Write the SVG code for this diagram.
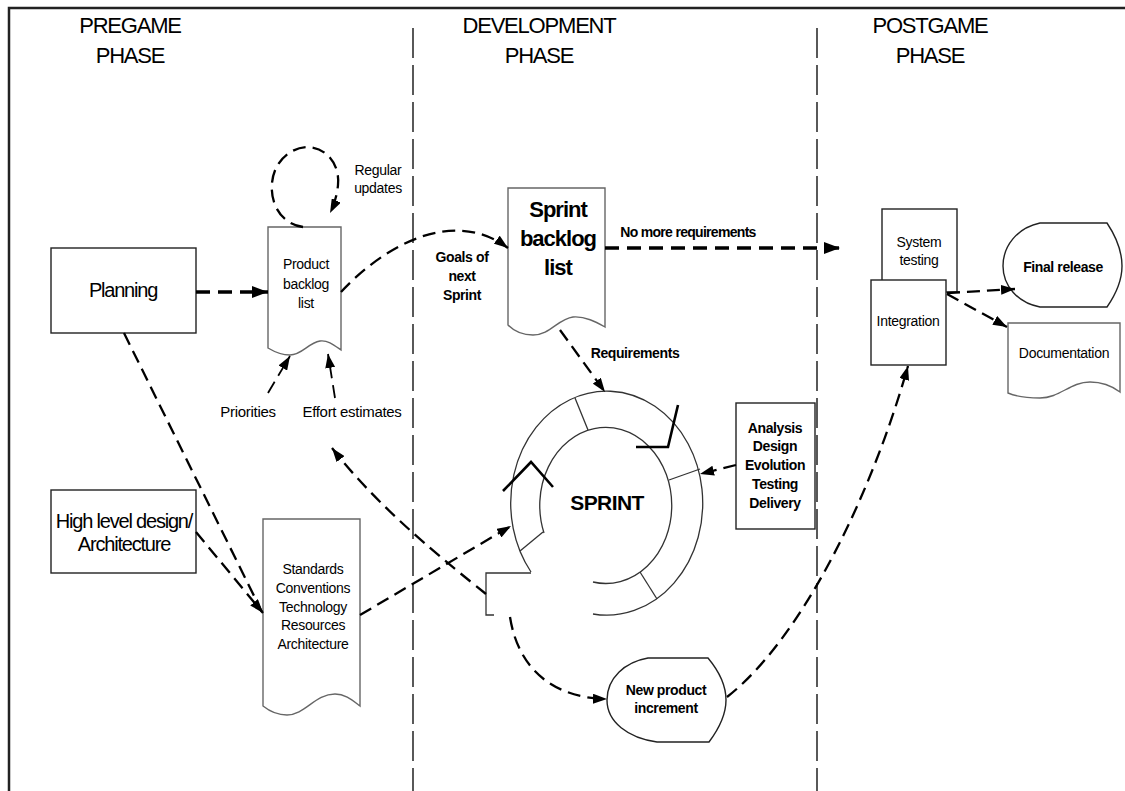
<svg xmlns="http://www.w3.org/2000/svg" width="1125" height="791" viewBox="0 0 1125 791">
  <defs>
    <marker id="ah" viewBox="0 0 14 10" refX="14" refY="5" markerWidth="14" markerHeight="10" markerUnits="userSpaceOnUse" orient="auto">
      <path d="M0,0 L14,5 L0,10 Z" fill="#000"/>
    </marker>
    <marker id="ahBig" viewBox="0 0 16 12" refX="16" refY="6" markerWidth="16" markerHeight="12" markerUnits="userSpaceOnUse" orient="auto">
      <path d="M0,0 L16,6 L0,12 Z" fill="#000"/>
    </marker>
    <style>
      text { font-family: "Liberation Sans", Arial, sans-serif; fill: #000; text-anchor: middle; }
      .hdr { font-size: 22px; letter-spacing: -1.2px; }
      .big { font-size: 20px; letter-spacing: -1.2px; }
      .t14 { font-size: 14px; letter-spacing: -0.3px; }
      .t15 { font-size: 15px; letter-spacing: -0.3px; }
      .b14 { font-size: 14px; font-weight: bold; letter-spacing: -0.4px; }
      .box { fill: #fff; stroke: #222; stroke-width: 1.4; }
      .doc { fill: #fff; stroke: #666; stroke-width: 1.4; }
      .ring { fill: none; stroke: #333; stroke-width: 1.3; }
      .chev { fill: none; stroke: #000; stroke-width: 2.6; }
      .dash { fill: none; stroke: #000; stroke-width: 2.3; stroke-dasharray: 13 7; }
      .dashBold { fill: none; stroke: #000; stroke-width: 3.6; stroke-dasharray: 14 8; }
      .divider { fill: none; stroke: #000; stroke-width: 1.3; stroke-dasharray: 30 7; }
    </style>
  </defs>

  <rect width="1125" height="791" fill="#fff"/>

  <!-- frame and phase dividers -->
  <g id="frame">
    <path d="M9,791 V8 H1125" fill="none" stroke="#222" stroke-width="2.5"/>
    <line class="divider" x1="413" y1="28" x2="413" y2="791"/>
    <line class="divider" x1="817" y1="28" x2="817" y2="791"/>
  </g>

  <!-- phase headings -->
  <g id="headings">
    <text class="hdr" x="130" y="33">PREGAME</text>
    <text class="hdr" x="130" y="63">PHASE</text>
    <text class="hdr" x="539" y="33">DEVELOPMENT</text>
    <text class="hdr" x="539" y="63">PHASE</text>
    <text class="hdr" x="930" y="33">POSTGAME</text>
    <text class="hdr" x="930" y="63">PHASE</text>
  </g>

  <g id="planning">
    <rect class="box" x="51" y="248" width="145" height="85"/>
    <text class="big" x="123" y="297">Planning</text>
  </g>

  <g id="high-level-design">
    <rect class="box" x="51" y="490" width="145" height="83"/>
    <text class="big" x="124" y="528">High level design/</text>
    <text class="big" x="124" y="551">Architecture</text>
  </g>

  <g id="product-backlog">
    <path class="doc" d="M268,227 H341 V350 C334,345 328,340 320,341 C308,343 302,355 290,355 C280,355 273,351 268,348 Z"/>
    <text class="t14" x="306" y="269">Product</text>
    <text class="t14" x="306" y="289">backlog</text>
    <text class="t14" x="306" y="308">list</text>
  </g>

  <g id="standards">
    <path class="doc" d="M263,519 H360 V706 C352,700 345,694 335,694 C315,694 305,715 287,715 C276,715 268,710 263,706 Z"/>
    <text class="t14" x="313" y="574">Standards</text>
    <text class="t14" x="313" y="593">Conventions</text>
    <text class="t14" x="313" y="612">Technology</text>
    <text class="t14" x="313" y="630">Resources</text>
    <text class="t14" x="313" y="649">Architecture</text>
  </g>

  <g id="sprint-backlog">
    <path class="doc" d="M508,188 H605 V327 C596,322 585,316 573,317 C558,319 550,335 533,335 C521,335 513,330 508,325 Z"/>
    <text x="558" y="217" style="font-size:22px;font-weight:bold;letter-spacing:-1px">Sprint</text>
    <text x="558" y="246" style="font-size:22px;font-weight:bold;letter-spacing:-1px">backlog</text>
    <text x="558" y="275" style="font-size:22px;font-weight:bold;letter-spacing:-1px">list</text>
  </g>

  <g id="sprint">
    <!-- outer ring, open at the lower left -->
    <path class="ring" d="M531,572 A96,112 0 1 1 593,614"/>
    <!-- inner ring, open at the lower left -->
    <path class="ring" d="M544,533 A66,78 0 1 1 593,582"/>
    <!-- segment dividers -->
    <line class="ring" x1="575" y1="398" x2="588" y2="430"/>
    <line class="ring" x1="669" y1="480" x2="700" y2="469"/>
    <line class="ring" x1="640" y1="572" x2="657" y2="599"/>
    <line class="ring" x1="543" y1="532" x2="520" y2="551"/>
    <!-- notch at the ring opening -->
    <path class="ring" d="M531,573 H486 V615 H494"/>
    <!-- chevrons -->
    <path class="chev" d="M636,447 H668 L678,405"/>
    <path class="chev" d="M503,491 L531,462 L553,487"/>
    <text x="607" y="510" style="font-size:21px;font-weight:bold;letter-spacing:-0.6px">SPRINT</text>
  </g>

  <g id="activities">
    <rect class="box" x="736" y="403" width="79" height="126"/>
    <text class="b14" x="775" y="433">Analysis</text>
    <text class="b14" x="775" y="451">Design</text>
    <text class="b14" x="775" y="470">Evolution</text>
    <text class="b14" x="775" y="489">Testing</text>
    <text class="b14" x="775" y="508">Delivery</text>
  </g>

  <g id="new-product-increment">
    <path class="box" d="M648,658 H708 C718,670 726,684 726,700 C726,716 718,730 709,742 H657 C628,738 607,722 607,700 C607,678 625,662 648,658 Z"/>
    <text class="b14" x="666" y="695">New product</text>
    <text class="b14" x="666" y="713">increment</text>
  </g>

  <g id="system-testing">
    <rect class="box" x="882" y="209" width="75" height="83"/>
    <text class="t14" x="919" y="247">System</text>
    <text class="t14" x="919" y="265">testing</text>
  </g>

  <g id="integration">
    <rect class="box" x="871" y="280" width="75" height="85"/>
    <text class="t14" x="908" y="326">Integration</text>
  </g>

  <g id="final-release">
    <path class="box" d="M1040,223 H1107 C1117,238 1122,252 1122,266 C1122,281 1116,294 1107,307 H1040 C1018,303 1003,286 1003,266 C1003,246 1017,228 1040,223 Z"/>
    <text class="b14" x="1063" y="272">Final release</text>
  </g>

  <g id="documentation">
    <path class="doc" d="M1008,323 H1120 V392 C1112,386 1102,382 1090,382 C1070,382 1060,398 1040,398 C1025,398 1015,396 1008,393 Z"/>
    <text class="t14" x="1064" y="358">Documentation</text>
  </g>

  <g id="connectors">
    <!-- regular updates loop on the product backlog -->
    <path class="dash" d="M303,227 C282,224 270,205 272,183 C274,160 292,147 308,147 C328,148 340,166 338,185 C337,196 334,205 330,213" marker-end="url(#ah)"/>
    <!-- planning to product backlog -->
    <line class="dashBold" x1="196" y1="292" x2="268" y2="292" marker-end="url(#ahBig)"/>
    <!-- planning and architecture into standards -->
    <line class="dash" x1="124" y1="333" x2="262" y2="612"/>
    <line class="dash" x1="196" y1="532" x2="263" y2="613" marker-end="url(#ah)"/>
    <!-- priorities and effort estimates -->
    <line class="dash" x1="268" y1="393" x2="290" y2="356" marker-end="url(#ah)" style="stroke-width:1.8"/>
    <line class="dash" x1="335" y1="398" x2="328" y2="354" marker-end="url(#ah)" style="stroke-width:1.8"/>
    <!-- goals of next sprint -->
    <path class="dash" d="M341,292 C380,250 450,205 508,248" marker-end="url(#ah)"/>
    <!-- no more requirements -->
    <line class="dashBold" x1="605" y1="248" x2="840" y2="248" marker-end="url(#ahBig)"/>
    <!-- requirements into the sprint -->
    <line class="dash" x1="560" y1="330" x2="605" y2="392" marker-end="url(#ah)"/>
    <!-- activities into the sprint -->
    <line class="dash" x1="736" y1="465" x2="700" y2="474" marker-end="url(#ah)"/>
    <!-- standards into the sprint -->
    <line class="dash" x1="360" y1="615" x2="511" y2="526" marker-end="url(#ah)"/>
    <!-- sprint back to the product backlog -->
    <path class="dash" d="M486,594 C450,565 380,510 332,448" marker-end="url(#ah)"/>
    <!-- sprint to new product increment -->
    <path class="dash" d="M510,617 C518,668 552,698 607,699" marker-end="url(#ah)"/>
    <!-- increment to integration -->
    <path class="dash" d="M727,697 C800,640 870,500 908,366" marker-end="url(#ah)"/>
    <!-- integration to final release and documentation -->
    <line class="dash" x1="947" y1="293" x2="1015" y2="289" marker-end="url(#ah)"/>
    <line class="dash" x1="947" y1="294" x2="1007" y2="327" marker-end="url(#ah)"/>
  </g>

  <!-- connector labels -->
  <g id="labels">
    <text class="t14" x="378" y="175">Regular</text>
    <text class="t14" x="378" y="193">updates</text>
    <text class="t15" x="248" y="417">Priorities</text>
    <text class="t15" x="352" y="417">Effort estimates</text>
    <text class="b14" x="462" y="262">Goals of</text>
    <text class="b14" x="462" y="281">next</text>
    <text class="b14" x="462" y="300">Sprint</text>
    <text class="b14" x="688" y="237" style="letter-spacing:-0.7px">No more requirements</text>
    <text class="b14" x="635" y="358">Requirements</text>
  </g>
</svg>
